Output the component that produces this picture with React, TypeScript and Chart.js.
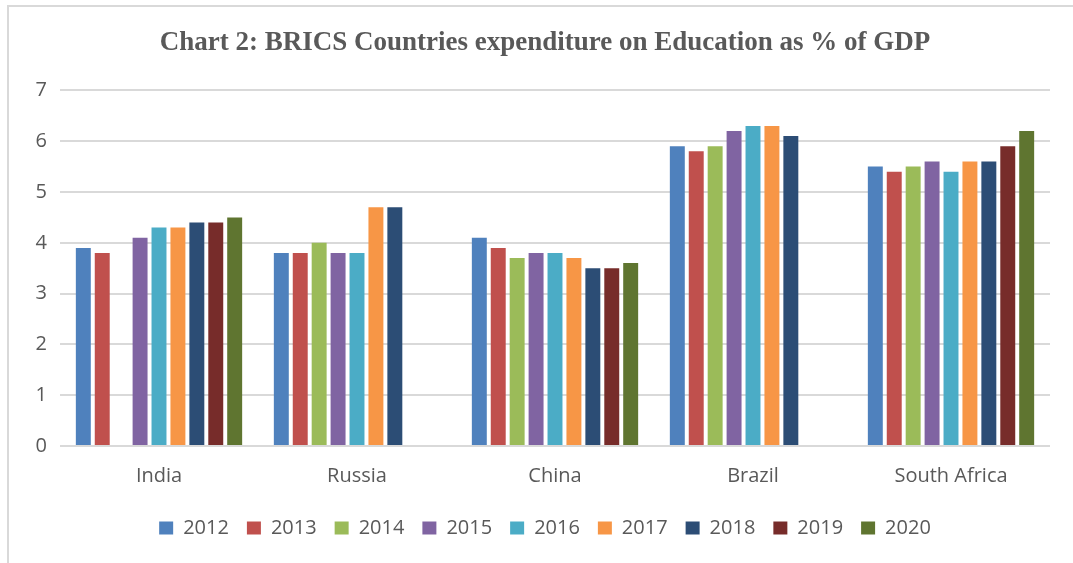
import React, { useEffect, useRef } from 'react';
import { Chart, registerables } from 'chart.js';

Chart.register(...registerables);

const categories = ['India', 'Russia', 'China', 'Brazil', 'South Africa'];
const years = ['2012', '2013', '2014', '2015', '2016', '2017', '2018', '2019', '2020'];
const colors = ['#4F81BD', '#C0504D', '#9BBB59', '#8064A2', '#4BACC6', '#F79646', '#2C4D75', '#772C2A', '#5F7530'];

const v2012 = [3.9, 3.8, 4.1, 5.9, 5.5];
const v2013 = [3.8, 3.8, 3.9, 5.8, 5.4];
const v2014 = [null, 4.0, 3.7, 5.9, 5.5];
const v2015 = [4.1, 3.8, 3.8, 6.2, 5.6];
const v2016 = [4.3, 3.8, 3.8, 6.3, 5.4];
const v2017 = [4.3, 4.7, 3.7, 6.3, 5.6];
const v2018 = [4.4, 4.7, 3.5, 6.1, 5.6];
const v2019 = [4.4, null, 3.5, null, 5.9];
const v2020 = [4.5, null, 3.6, null, 6.2];

const seriesValues = [v2012, v2013, v2014, v2015, v2016, v2017, v2018, v2019, v2020];

const yTicks = [0, 1, 2, 3, 4, 5, 6, 7];

const TEXT = '#595959';
const SANS = "'Open Sans', 'Noto Sans', sans-serif";

// shifts title and legend so that they are centred like the reference
const centreShift = {
  id: 'centreShift',
  afterLayout(chart: any) {
    if (chart.titleBlock) chart.titleBlock.left += 30;
    if (chart.legend) chart.legend.left += 30;
  },
};

export default function App() {
  const ref = useRef<HTMLCanvasElement | null>(null);

  useEffect(() => {
    if (!ref.current) return;
    const chart = new Chart(ref.current, {
      type: 'bar',
      data: {
        labels: categories,
        datasets: years.map((y, i) => ({
          label: y,
          data: seriesValues[i],
          backgroundColor: colors[i],
          borderWidth: 0,
          categoryPercentage: 0.86,
          barPercentage: 0.79,
        })),
      },
      plugins: [centreShift],
      options: {
        animation: false,
        responsive: false,
        maintainAspectRatio: false,
        layout: { padding: { left: 10, right: 23, top: 0, bottom: 15 } },
        plugins: {
          title: {
            display: true,
            text: 'Chart 2: BRICS Countries expenditure on Education as % of GDP',
            color: TEXT,
            font: { family: "'Liberation Serif', serif", size: 27, weight: 'bold' },
            padding: { top: 27, bottom: 31 },
          },
          legend: {
            position: 'bottom',
            labels: {
              color: TEXT,
              font: { family: SANS, size: 20 },
              boxWidth: 14,
              boxHeight: 13,
              padding: 18,
            },
          },
          tooltip: { enabled: false },
        },
        scales: {
          x: {
            grid: { display: false, drawTicks: false },
            border: { display: false },
            ticks: { color: TEXT, font: { family: SANS, size: 20 }, padding: 18 },
            afterFit: (s: any) => { s.height = 54; },
          },
          y: {
            min: 0,
            max: 7,
            afterBuildTicks: (s: any) => { s.ticks = yTicks.map((v) => ({ value: v })); },
            grid: { color: '#d9d9d9', lineWidth: 2, drawTicks: false },
            border: { display: false },
            ticks: { color: TEXT, font: { family: SANS, size: 20 }, padding: 13 },
            afterFit: (s: any) => { s.width = 50; },
          },
        },
      },
    });
    return () => chart.destroy();
  }, []);

  return (
    <div style={{ position: 'absolute', left: 0, top: 0, width: 1073, height: 563, background: '#fff' }}>
      <div
        style={{
          position: 'absolute',
          left: 7,
          top: 5,
          width: 1066,
          height: 558,
          borderLeft: '2px solid #d9d9d9',
          borderTop: '2px solid #d9d9d9',
          boxSizing: 'border-box',
        }}
      />
      <canvas ref={ref} width={1073} height={563} style={{ position: 'absolute', left: 0, top: 0, width: 1073, height: 563 }} />
    </div>
  );
}
